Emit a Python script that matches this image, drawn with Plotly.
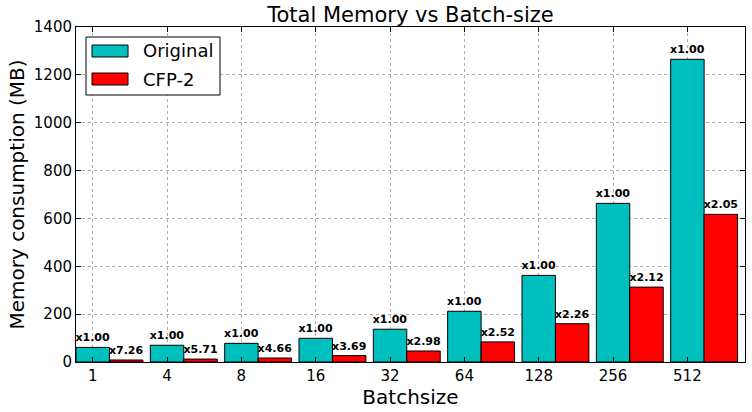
import plotly.graph_objects as go

batch_sizes = ["1", "4", "8", "16", "32", "64", "128", "256", "512"]
original_mb = [61, 70, 78, 99, 137, 212, 362, 663, 1265]
cfp2_mb = [8.4, 12.2, 16.7, 26.8, 46, 84, 160, 313, 617]
original_labels = ["x1.00"] * 9
cfp2_labels = ["x7.26", "x5.71", "x4.66", "x3.69", "x2.98", "x2.52", "x2.26", "x2.12", "x2.05"]

bar_w = 0.45
idx = list(range(len(batch_sizes)))
x_orig = [i + bar_w / 2 for i in idx]
x_cfp = [i + bar_w * 1.5 for i in idx]

font_family = "DejaVu Sans"
cyan = "#00BFBF"
red = "#FF0000"

fig = go.Figure()
fig.add_trace(go.Bar(
    x=x_orig, y=original_mb, width=bar_w, name="Original",
    marker=dict(color=cyan, line=dict(color="black", width=1)),
    text=original_labels, textposition="outside", constraintext="none",
    textfont=dict(family=font_family, size=11, color="black", weight="bold"),
    cliponaxis=False,
))
fig.add_trace(go.Bar(
    x=x_cfp, y=cfp2_mb, width=bar_w, name="CFP-2",
    marker=dict(color=red, line=dict(color="black", width=1)),
    text=cfp2_labels, textposition="outside", constraintext="none",
    textfont=dict(family=font_family, size=11, color="black", weight="bold"),
    cliponaxis=False,
))

# manual matplotlib-style legend
L, T, W, H = 76, 27, 669, 335
def px(xp):
    return (xp - L) / W
def py(yp):
    return 1 - (yp - T) / H

shapes = [
    dict(type="rect", xref="paper", yref="paper", x0=px(86), x1=px(220), y0=py(95), y1=py(37),
         line=dict(color="black", width=1), fillcolor="white", layer="above"),
    dict(type="rect", xref="paper", yref="paper", x0=px(92), x1=px(128), y0=py(57), y1=py(45),
         line=dict(color="black", width=1), fillcolor=cyan, layer="above"),
    dict(type="rect", xref="paper", yref="paper", x0=px(92), x1=px(128), y0=py(85), y1=py(73),
         line=dict(color="black", width=1), fillcolor=red, layer="above"),
]
annotations = [
    dict(text="Original", xref="paper", yref="paper", x=px(141), y=py(51), xanchor="left",
         yanchor="middle", showarrow=False, font=dict(family=font_family, size=18, color="black")),
    dict(text="CFP-2", xref="paper", yref="paper", x=px(141), y=py(79), xanchor="left",
         yanchor="middle", showarrow=False, font=dict(family=font_family, size=18, color="black")),
]

fig.update_layout(
    width=752, height=412,
    margin=dict(l=L, r=752 - 745, t=T, b=412 - 362, autoexpand=False),
    paper_bgcolor="white", plot_bgcolor="white",
    showlegend=False, barmode="overlay",
    font=dict(family=font_family, color="black"),
    title=dict(text="Total Memory vs Batch-size", x=(76 + 745) / 2 / 752, xanchor="center",
               y=1 - 15 / 412, yanchor="middle", font=dict(size=21, color="black")),
    shapes=shapes, annotations=annotations,
)
fig.update_xaxes(
    range=[0, 9], tickmode="array", tickvals=x_orig, ticktext=batch_sizes,
    tickfont=dict(size=15), ticks="inside", ticklen=5, tickcolor="black",
    showline=True, linecolor="black", linewidth=1, mirror="ticks",
    showgrid=True, gridcolor="#b0b0b0", gridwidth=1, griddash="3px,3px",
    zeroline=False, automargin=False,
    title=dict(text="Batchsize", font=dict(size=20), standoff=0),
)
fig.update_yaxes(
    range=[0, 1400], tickmode="array", tickvals=list(range(0, 1401, 200)),
    tickfont=dict(size=15), ticks="inside", ticklen=5, tickcolor="black",
    showline=True, linecolor="black", linewidth=1, mirror="ticks",
    showgrid=True, gridcolor="#b0b0b0", gridwidth=1, griddash="3px,3px",
    zeroline=False, automargin=False,
    title=dict(text="Memory consumption (MB)", font=dict(size=20), standoff=3),
)

fig.write_html(
    "out.html",
    config={"displayModeBar": False},
    post_script="document.body.style.margin='0';document.body.style.padding='0';",
)
